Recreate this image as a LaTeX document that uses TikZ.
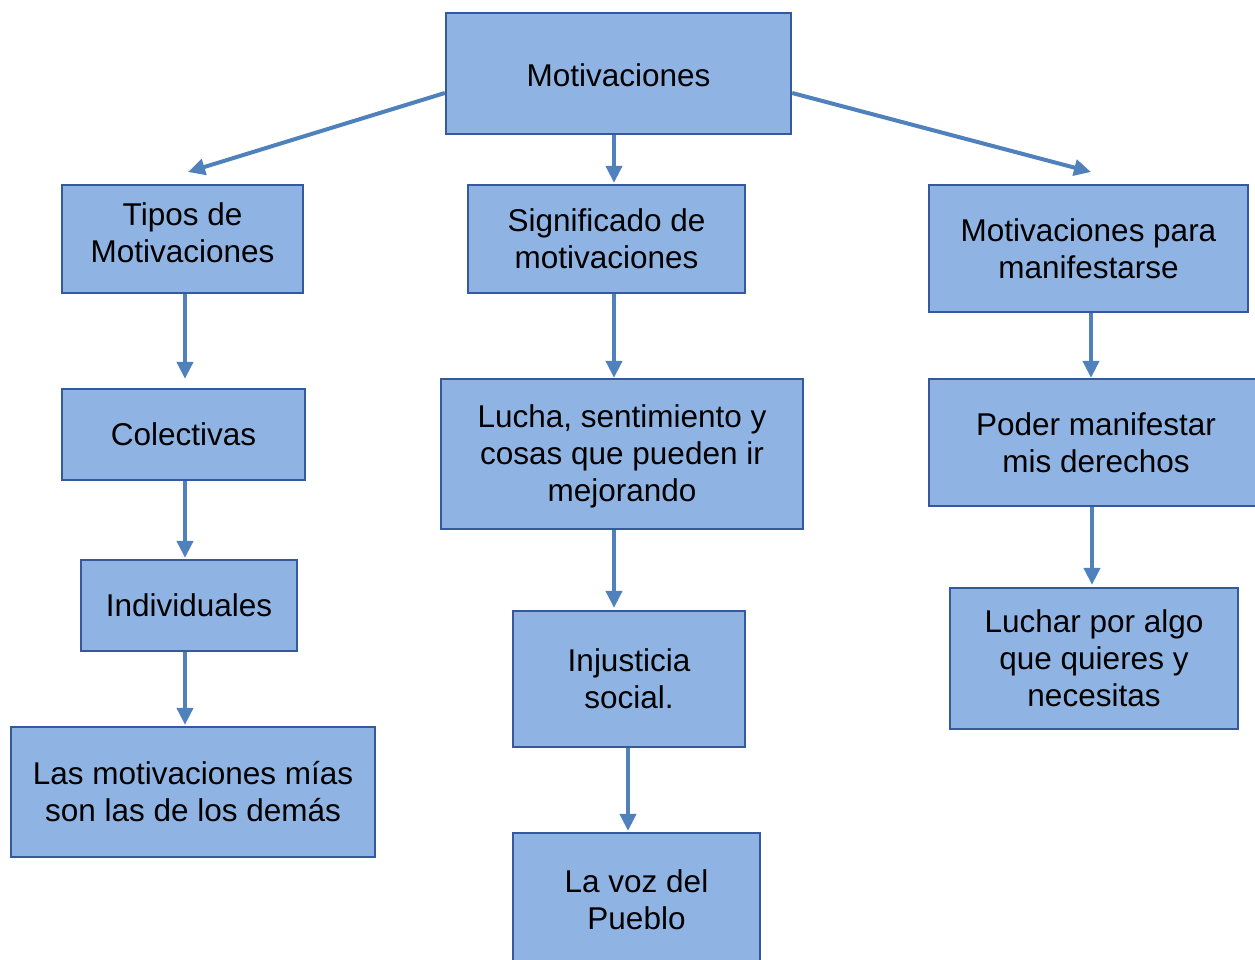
\documentclass[tikz,border=0pt]{standalone}
\usepackage{fontspec}
\setmainfont{Liberation Sans}
\usetikzlibrary{arrows.meta}
\definecolor{boxfill}{HTML}{8FB4E3}
\definecolor{boxline}{HTML}{34599C}
\definecolor{arrowc}{HTML}{4F81BD}
\tikzset{
  cbox/.style={draw=boxline, line width=2.3pt, fill=boxfill, align=center,
    inner sep=0pt, font=\fontsize{31.5}{37}\selectfont, text=black},
  ctext/.style={align=center, inner sep=0pt, font=\fontsize{31.5}{37}\selectfont, text=black},
  conn/.style={draw=arrowc, line width=4pt,
    -{Triangle[length=17pt,width=16pt]}, shorten >=0pt}
}
\begin{document}
\begin{tikzpicture}[x=1pt,y=-1pt]
\useasboundingbox (0,0) rectangle (1255,960);
\clip (0,0) rectangle (1255,960);
\fill[white] (0,0) rectangle (1255,960);
\node[cbox, minimum width=345pt, minimum height=121pt] (m) at (618.5,73.5) {};
\node[ctext] (mT) at (618.5,75.5) {Motivaciones};
\node[cbox, minimum width=241pt, minimum height=108pt] (tipos) at (182.5,239) {};
\node[ctext] (tiposT) at (182.5,233) {Tipos de\\Motivaciones};
\node[cbox, minimum width=277pt, minimum height=108pt] (sig) at (606.5,239) {Significado de\\motivaciones};
\node[cbox, minimum width=319pt, minimum height=127pt] (mpm) at (1088.5,248.5) {Motivaciones para\\manifestarse};
\node[cbox, minimum width=243pt, minimum height=91pt] (col) at (183.5,434.5) {Colectivas};
\node[cbox, minimum width=362pt, minimum height=150pt] (luc) at (622,454) {};
\node[ctext] (lucT) at (622,456) {Lucha, sentimiento y\\cosas que pueden ir\\mejorando};
\node[cbox, minimum width=334pt, minimum height=127pt] (pod) at (1096,442.5) {Poder manifestar\\mis derechos};
\node[cbox, minimum width=216pt, minimum height=91pt] (ind) at (189,605.5) {Individuales};
\node[cbox, minimum width=232pt, minimum height=136pt] (inj) at (629,679) {Injusticia\\social.};
\node[cbox, minimum width=288pt, minimum height=141pt] (lpa) at (1094,658.5) {Luchar por algo\\que quieres y\\necesitas};
\node[cbox, minimum width=364pt, minimum height=130pt] (las) at (193,792) {Las motivaciones mías\\son las de los demás};
\node[cbox, minimum width=247pt, minimum height=134pt] (voz) at (636.5,900) {La voz del\\Pueblo};
\coordinate (tl) at (188,172);
\coordinate (tr) at (1091,172);
\draw[conn] ([yshift=-19.5pt]m.west) -- (tl);
\draw[conn] ([yshift=-19.5pt]m.east) -- (tr);
\draw[conn] ([xshift=-4.5pt]m.south) -- ([xshift=7.5pt,yshift=1pt]sig.north);
\draw[conn] ([xshift=2.5pt]tipos.south) -- ([xshift=1.5pt,yshift=9pt]col.north);
\draw[conn] ([xshift=7.5pt]sig.south) -- ([xshift=-8pt]luc.north);
\draw[conn] ([xshift=2.5pt]mpm.south) -- ([xshift=-5pt]pod.north);
\draw[conn] ([xshift=1.5pt]col.south) -- ([xshift=-4pt,yshift=1pt]ind.north);
\draw[conn] ([xshift=-8pt]luc.south) -- ([xshift=-15pt,yshift=2pt]inj.north);
\draw[conn] ([xshift=-4pt]pod.south) -- ([xshift=-2pt,yshift=2pt]lpa.north);
\draw[conn] ([xshift=-4pt]ind.south) -- ([xshift=-8pt,yshift=1pt]las.north);
\draw[conn] ([xshift=-1pt]inj.south) -- ([xshift=-8.5pt,yshift=1pt]voz.north);
\end{tikzpicture}
\end{document}
